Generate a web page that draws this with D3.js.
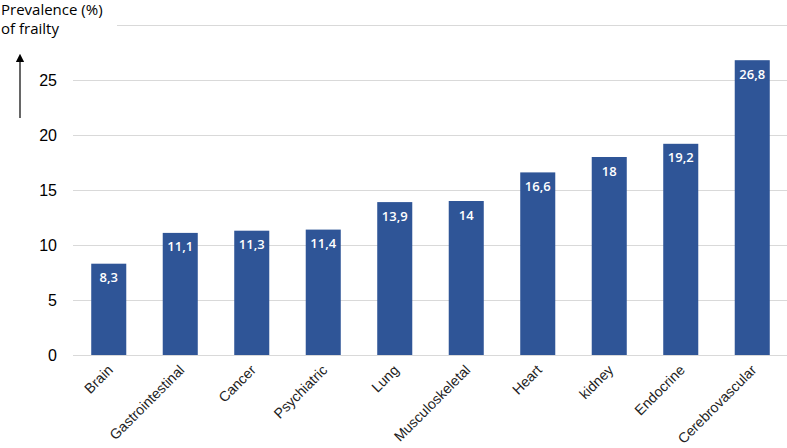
<!DOCTYPE html>
<html lang="en">
<head>
<meta charset="UTF-8">
<title>Prevalence of frailty</title>
<script src="https://cdn.jsdelivr.net/npm/d3@7"></script>
<style>
  body { margin: 0; padding: 0; background: #fff; }
  .grid line { stroke: #d9d9d9; stroke-width: 1; }
  .grid path { display: none; }
  .yAxis text { font-family: "Liberation Sans", Arial, sans-serif; font-size: 16px; fill: #000; }
  .yAxis path, .yAxis line { display: none; }
  .xAxis text { font-family: "Liberation Sans", Arial, sans-serif; font-size: 14.2px; fill: #222; }
  .xAxis path, .xAxis line { display: none; }
  .bar { fill: #2f5597; }
  .barLabel { font-family: "Open Sans", sans-serif; font-weight: 600; font-size: 13px; fill: #fff; text-anchor: middle; }
  .yTitle { font-family: "Open Sans", sans-serif; font-size: 15px; fill: #000; }
</style>
</head>
<body>
<div id="chart"></div>
<script>
const categories = ["Brain", "Gastrointestinal", "Cancer", "Psychiatric", "Lung",
  "Musculoskeletal", "Heart", "kidney", "Endocrine", "Cerebrovascular"];
const values = [8.3, 11.1, 11.3, 11.4, 13.9, 14, 16.6, 18, 19.2, 26.8];
const valueLabels = ["8,3", "11,1", "11,3", "11,4", "13,9", "14", "16,6", "18", "19,2", "26,8"];
const yTicks = [0, 5, 10, 15, 20, 25];
const gridTicks = [0, 5, 10, 15, 20, 25, 30];

const W = 787, H = 448;
const svg = d3.select("#chart").append("svg")
  .attr("width", W).attr("height", H);

const x = d3.scaleBand().domain(categories).range([73, 788]).paddingInner(0.51).paddingOuter(0.255);
const y = d3.scaleLinear().domain([0, 30]).range([355, 25]);

// gridlines
svg.append("g").attr("class", "grid")
  .attr("transform", "translate(73,0)")
  .call(d3.axisLeft(y).tickValues(gridTicks).tickSize(-(W - 73)).tickFormat(""));

// y axis labels
svg.append("g").attr("class", "yAxis")
  .attr("transform", "translate(63,0)")
  .call(d3.axisLeft(y).tickValues(yTicks).tickSize(0).tickPadding(6));

// bars
svg.selectAll(".bar").data(values).enter().append("rect")
  .attr("class", "bar")
  .attr("x", (d, i) => x(categories[i]))
  .attr("width", x.bandwidth())
  .attr("y", d => y(d))
  .attr("height", d => y(0) - y(d));

svg.selectAll(".barLabel").data(values).enter().append("text")
  .attr("class", "barLabel")
  .attr("x", (d, i) => x(categories[i]) + x.bandwidth() / 2)
  .attr("y", d => y(d) + 18.5)
  .text((d, i) => valueLabels[i]);

// x axis labels
const xAxis = svg.append("g").attr("class", "xAxis")
  .attr("transform", "translate(0," + y(0) + ")")
  .call(d3.axisBottom(x).tickSize(0).tickPadding(0));
xAxis.selectAll("text")
  .attr("dy", null)
  .attr("y", 0)
  .attr("transform", "translate(5,16) rotate(-45)")
  .style("text-anchor", "end");

// y title on a white box (hides the top gridline's start)
svg.append("rect").attr("x", 0).attr("y", 0).attr("width", 117).attr("height", 40).attr("fill", "#fff");
const title = svg.append("text").attr("class", "yTitle");
title.append("tspan").attr("x", 1).attr("y", 15).text("Prevalence (%)");
title.append("tspan").attr("x", 1).attr("y", 34).text("of frailty");

// arrow
svg.append("defs").append("marker")
  .attr("id", "arrowhead")
  .attr("viewBox", "0 0 10 10").attr("refX", 5).attr("refY", 5)
  .attr("markerWidth", 7).attr("markerHeight", 7)
  .attr("orient", "auto")
  .append("path").attr("d", "M0,0 L10,5 L0,10 z").attr("fill", "#000");

svg.append("line")
  .attr("x1", 20).attr("x2", 20).attr("y1", 118).attr("y2", 58)
  .attr("stroke", "#000").attr("stroke-width", 1.2)
  .attr("marker-end", "url(#arrowhead)");
</script>
</body>
</html>
